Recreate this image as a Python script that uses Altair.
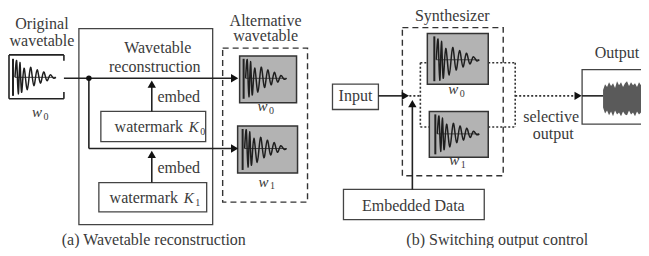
import altair as alt
import pandas as pd

# ---------------- diagram data (diagram coordinates, y grows downward) ----------------
# plain boxes: x1, y1, x2, y2
plain_x1 = [78, 100, 98, 332, 343, 582]
plain_y1 = [25, 110, 183, 82, 190, 67]
plain_x2 = [212, 205, 206, 378, 484, 700]
plain_y2 = [226, 141, 213, 108, 221, 123]

# dashed group boxes
dash_x1 = [222, 402]
dash_y1 = [45, 24]
dash_x2 = [307, 503]
dash_y2 = [203, 176]

# grey wavetable boxes
grey_x1 = [239, 237, 427, 429]
grey_y1 = [53, 125, 30, 110]
grey_x2 = [296, 297, 488, 488]
grey_y2 = [101, 173, 82, 157]

# solid connector segments
seg_x1 = [63, 88, 88, 151, 151, 378, 412, 582, 8, 8, 63, 8, 63]
seg_y1 = [76, 76, 148, 110, 183, 94, 190, 94, 52, 52, 52, 97, 90]
seg_x2 = [232, 88, 232, 151, 151, 402, 412, 603, 8, 63, 63, 63, 63]
seg_y2 = [76, 148, 148, 84, 156, 94, 104, 94, 97, 52, 58, 97, 97]

# dotted connector segments (switching network)
dot_x1 = [409, 420, 420, 420, 488, 488, 515, 515]
dot_y1 = [94, 60, 60, 126, 60, 126, 60, 94]
dot_x2 = [420, 420, 427, 429, 515, 515, 515, 574]
dot_y2 = [94, 126, 60, 126, 60, 126, 126, 94]

# arrow heads
arr_x = [234, 234, 151, 151, 405, 412, 578]
arr_y = [76, 148, 82, 154, 94, 102, 94]
arr_shape = ["triangle-right", "triangle-right", "triangle-up", "triangle-up",
             "triangle-right", "triangle-up", "triangle-right"]

# junction dot
junc_x = [88]
junc_y = [76]

# wavetable shape: relative position, relative amplitude
wave_t = [0.00, 0.04, 0.08, 0.12, 0.16, 0.22, 0.30, 0.38, 0.46, 0.54, 0.62, 0.70,
          0.78, 0.86, 0.94, 1.00]
wave_v = [0.0, 1.0, -1.0, 0.9, -0.9, 0.55, -0.75, 0.6, -0.5, 0.45, -0.35, 0.32,
          -0.2, 0.15, -0.05, 0.0]
# wavetable instances: start x, end x, centre y, amplitude, bar top, bar bottom
inst_x0 = [14, 245, 244, 436, 437]
inst_x1 = [55, 286, 286, 479, 479]
inst_yc = [75, 76, 148, 57, 133]
inst_amp = [17, 19, 19, 21, 18]
inst_bt = [56, 56, 128, 33, 113]
inst_bb = [94, 97, 170, 79, 154]

# output noise envelope
noise_x = [603, 605, 607, 609, 611, 613, 615, 617, 619, 621, 623, 625, 627, 629,
           631, 633, 635, 637, 639, 641]
noise_top = [88, 82, 85, 80, 84, 81, 86, 79, 83, 80, 85, 81, 79, 84, 80, 83, 81, 85, 80, 83]
noise_bot = [106, 112, 109, 114, 110, 115, 109, 113, 111, 115, 110, 113, 114, 109, 113, 111,
             115, 110, 113, 111]

# upright labels
lab_text = ["Original", "wavetable", "Wavetable", "reconstruction", "embed", "embed",
            "watermark", "watermark", "Alternative", "wavetable",
            "(a) Wavetable reconstruction", "Synthesizer", "Input", "Embedded Data",
            "selective", "output", "Output", "(b) Switching output control"]
lab_x = [41, 41, 157, 154, 178, 178, 148, 143, 265, 265,
         153, 452, 355, 413, 551, 553, 617, 497]
lab_y = [25, 43, 50, 70, 100, 173, 131, 204, 22, 38,
         247, 17, 99, 212, 121, 138, 55, 247]

# italic symbols and their subscripts
sym_text = ["K", "K", "w", "w", "w", "w", "w"]
sym_x = [193, 188, 36, 262, 263, 453, 454]
sym_y = [131, 204, 116, 110, 187, 92, 165]
sub_text = ["0", "1", "0", "0", "1", "0", "1"]
sub_x = [202, 197, 45, 271, 272, 462, 463]
sub_y = [134, 207, 119, 113, 190, 95, 168]

# ---------------- tables ----------------
plain = pd.DataFrame({"x": plain_x1, "y": plain_y1, "x2": plain_x2, "y2": plain_y2})
dashed = pd.DataFrame({"x": dash_x1, "y": dash_y1, "x2": dash_x2, "y2": dash_y2})
grey = pd.DataFrame({"x": grey_x1, "y": grey_y1, "x2": grey_x2, "y2": grey_y2})
segs = pd.DataFrame({"x": seg_x1, "y": seg_y1, "x2": seg_x2, "y2": seg_y2})
dots = pd.DataFrame({"x": dot_x1, "y": dot_y1, "x2": dot_x2, "y2": dot_y2})
arrows = pd.DataFrame({"x": arr_x, "y": arr_y, "shape": arr_shape})
junc = pd.DataFrame({"x": junc_x, "y": junc_y})

wrows = []
for i in range(len(inst_x0)):
    for t, v in zip(wave_t, wave_v):
        wrows.append({"g": i, "x": inst_x0[i] + t * (inst_x1[i] - inst_x0[i]),
                      "y": inst_yc[i] - v * inst_amp[i]})
waves = pd.DataFrame(wrows)
bars = pd.DataFrame({"x": [a - 2 for a in inst_x0], "y": inst_bt,
                     "x2": [a - 2 for a in inst_x0], "y2": inst_bb})
zeros = pd.DataFrame({"x": inst_x0, "y": inst_yc, "x2": inst_x1, "y2": inst_yc})
noise = pd.DataFrame({"x": noise_x, "y": noise_top, "y2": noise_bot})
labels = pd.DataFrame({"x": lab_x, "y": lab_y, "t": lab_text})
syms = pd.DataFrame({"x": sym_x, "y": sym_y, "t": sym_text})
subs = pd.DataFrame({"x": sub_x, "y": sub_y, "t": sub_text})

xs = alt.Scale(domain=[8, 641], nice=False, zero=False)
ys = alt.Scale(domain=[8, 248], nice=False, zero=False, reverse=True)


def X(f="x"):
    return alt.X(f"{f}:Q", scale=xs, axis=None)


def Y(f="y"):
    return alt.Y(f"{f}:Q", scale=ys, axis=None)


LINE = "#222222"
TEXT = "#3a3a3a"
FONT = "Liberation Serif, Times New Roman, serif"

plain_l = alt.Chart(plain).mark_rect(fill="white", stroke="#444444", strokeWidth=1.3,
                                     clip=True).encode(x=X(), x2="x2:Q", y=Y(), y2="y2:Q")
dashed_l = alt.Chart(dashed).mark_rect(fill="transparent", stroke="#333333", strokeWidth=1.4,
                                       strokeDash=[6, 4]).encode(x=X(), x2="x2:Q", y=Y(), y2="y2:Q")
grey_l = alt.Chart(grey).mark_rect(fill="#b3b3b3", stroke="#333333", strokeWidth=1.5).encode(
    x=X(), x2="x2:Q", y=Y(), y2="y2:Q")
seg_l = alt.Chart(segs).mark_rule(color=LINE, strokeWidth=1.6).encode(
    x=X(), x2="x2:Q", y=Y(), y2="y2:Q")
dot_l = alt.Chart(dots).mark_rule(color="#333333", strokeWidth=1.6, strokeDash=[2, 2]).encode(
    x=X(), x2="x2:Q", y=Y(), y2="y2:Q")
arr_l = alt.Chart(arrows).mark_point(filled=True, size=70, color="#111111", opacity=1).encode(
    x=X(), y=Y(), shape=alt.Shape("shape:N", scale=None, legend=None))
junc_l = alt.Chart(junc).mark_point(filled=True, size=30, shape="circle", color="#111111",
                                    opacity=1).encode(x=X(), y=Y())
zero_l = alt.Chart(zeros).mark_rule(color="#444444", strokeWidth=1).encode(
    x=X(), x2="x2:Q", y=Y(), y2="y2:Q")
bar_l = alt.Chart(bars).mark_rule(color="#222222", strokeWidth=2).encode(
    x=X(), x2="x2:Q", y=Y(), y2="y2:Q")
wave_l = alt.Chart(waves).mark_line(color="#1e1e1e", strokeWidth=1.5, interpolate="cardinal").encode(
    x=X(), y=Y(), detail="g:N")
noise_l = alt.Chart(noise).mark_area(color="#5a5a5a", interpolate="linear", clip=True).encode(
    x=X(), y=Y(), y2="y2:Q")
lab_l = alt.Chart(labels).mark_text(font=FONT, fontSize=16, color=TEXT, align="center",
                                    baseline="alphabetic").encode(x=X(), y=Y(), text="t:N")
sym_l = alt.Chart(syms).mark_text(font=FONT, fontSize=15, fontStyle="italic", color=TEXT,
                                  align="center", baseline="alphabetic").encode(x=X(), y=Y(), text="t:N")
sub_l = alt.Chart(subs).mark_text(font=FONT, fontSize=10, color=TEXT, align="center",
                                  baseline="alphabetic").encode(x=X(), y=Y(), text="t:N")

chart = alt.layer(
    plain_l, dashed_l, grey_l, zero_l, bar_l, wave_l, noise_l, seg_l, dot_l, arr_l, junc_l,
    lab_l, sym_l, sub_l
).properties(
    width=633, height=240, padding=0,
    autosize=alt.AutoSizeParams(type="fit", contains="padding"),
).configure_view(stroke=None)

chart.save("out.html", embed_options={"renderer": "svg", "actions": False})
